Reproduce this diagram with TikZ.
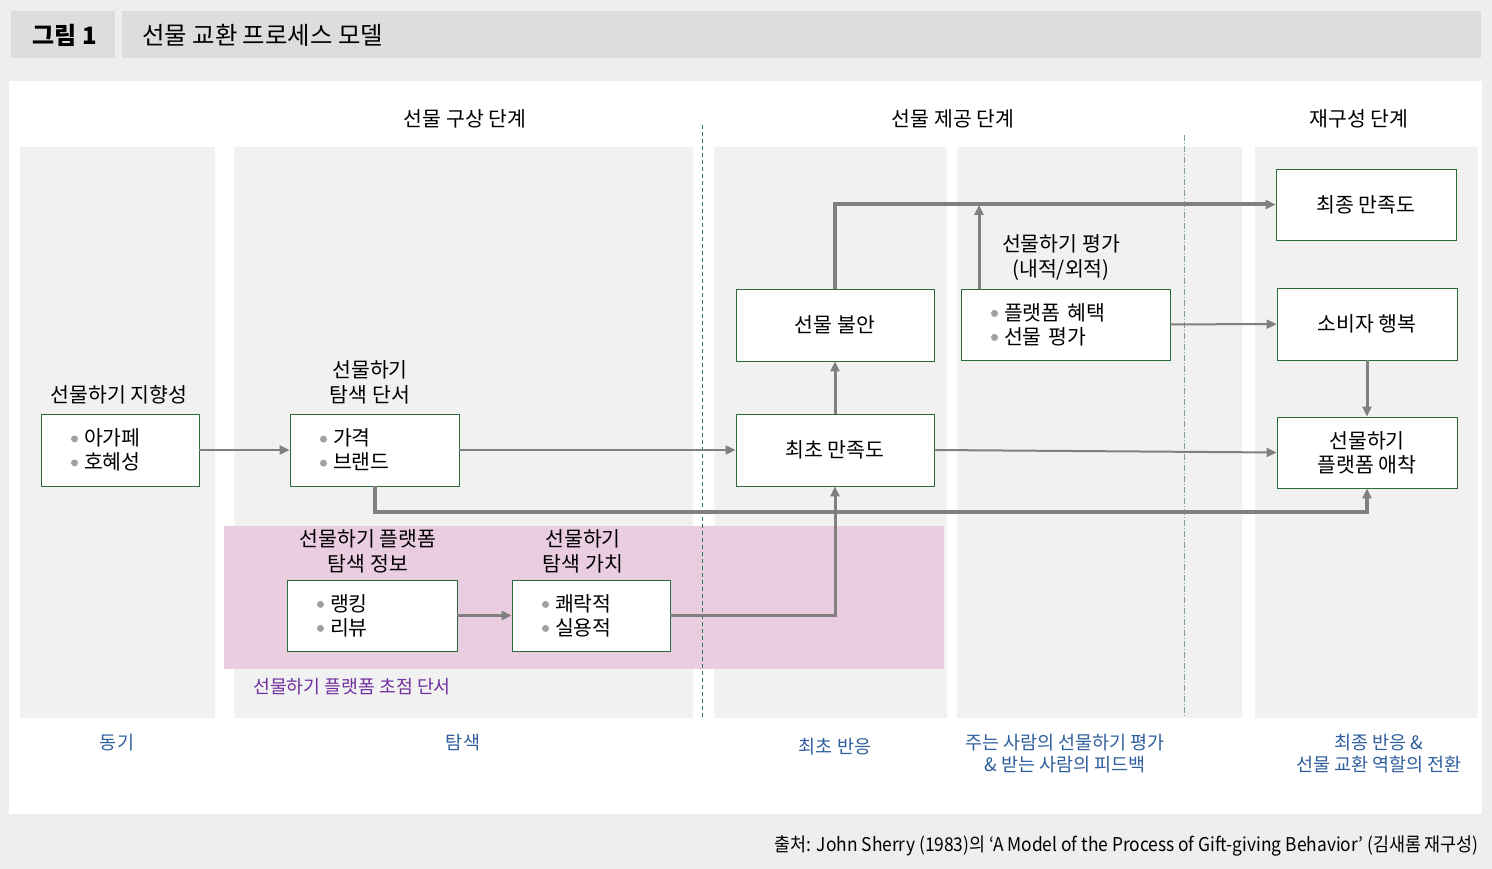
\documentclass[tikz,border=0pt]{standalone}
\usepackage{fontspec}
\setmainfont{Noto Sans CJK KR}
\usepackage{graphicx}
\usetikzlibrary{arrows.meta}

\definecolor{pagegray}{HTML}{EEEEEE}
\definecolor{bargray}{HTML}{DCDDDC}
\definecolor{panelgray}{HTML}{F1F1F1}
\definecolor{focuspink}{HTML}{EACDE1}
\definecolor{boxgreen}{HTML}{2A6B3C}
\definecolor{linegray}{HTML}{808080}
\definecolor{dotgray}{HTML}{A0A0A0}
\definecolor{stageblue}{HTML}{2F5F9E}
\definecolor{focuspurple}{HTML}{7030A0}
\definecolor{dashgreen}{HTML}{2E7D4F}
\definecolor{dotdashgreen}{HTML}{7FA088}

\newcommand{\gbul}{\tikz[baseline=-0.33em]\fill[dotgray] (0,0) circle (3.5pt);\hspace{6pt}}

\begin{document}
\begin{tikzpicture}[x=1pt, y=-1pt,
    >={Triangle[length=10pt, width=9pt]},
    gbox/.style={draw=boxgreen, fill=white, line width=0.8pt, minimum height=72pt, inner sep=0pt, font=\fontsize{20.5}{24}\selectfont},
    listbox/.style={gbox, align=left, inner xsep=30pt},
    ttl/.style={font=\fontsize{20.5}{25}\selectfont, align=center, inner sep=0pt},
    phase/.style={text=stageblue, font=\fontsize{18.5}{22}\selectfont, align=center, inner sep=0pt},
    arr/.style={->, draw=linegray, line width=#1},
    arr/.default=2.5pt]

    % Background, header and panels
    \fill[pagegray] (0,0) rectangle (1492,869);
    \useasboundingbox (0,0) rectangle (1492,869);
    \fill[bargray] (11,11) rectangle (115,58);
    \fill[bargray] (122,11) rectangle (1481,58);
    \node[font=\fontsize{24}{26}\selectfont\bfseries] (FigNo) at (65,35) {그림 1};
    \node[anchor=west, inner sep=0pt, font=\fontsize{24.4}{26}\selectfont] (FigTitle) at (142,35) {선물 교환 프로세스 모델};
    \fill[white] (9,81) rectangle (1482,814);
    \fill[panelgray] (20,147) rectangle (215,718);
    \fill[panelgray] (234,147) rectangle (693,718);
    \fill[panelgray] (714,147) rectangle (947,718);
    \fill[panelgray] (957,147) rectangle (1242,718);
    \fill[panelgray] (1255,147) rectangle (1478,718);
    \fill[focuspink] (224,526) rectangle (944,669);

    % Stage borders
    \draw[dashgreen, line width=0.8pt, dash pattern=on 4pt off 3pt] (702,125) -- (702,720);
    \draw[dotdashgreen, line width=0.8pt, dash pattern=on 6pt off 2pt on 1pt off 2pt] (1184,135) -- (1184,716);

    % Stage titles
    \node[ttl] (Design) at (465,119) {선물 구상 단계};
    \node[ttl] (Giving) at (953,119) {선물 제공 단계};
    \node[ttl] (Rebuild) at (1359,119) {재구성 단계};

    % Boxes
    \node[listbox, text width=98pt] (Orient) at (120,450) {\gbul 아가페\\ \gbul 호혜성};
    \node[listbox, text width=109pt] (Cue) at (374.5,450) {\gbul 가격\\ \gbul 브랜드};
    \node[listbox, text width=110pt, minimum height=71pt] (Info) at (372,615.5) {\gbul 랭킹\\ \gbul 리뷰};
    \node[listbox, text width=98pt, minimum height=71pt] (Value) at (591,615.5) {\gbul 쾌락적\\ \gbul 실용적};
    \node[gbox, minimum width=198pt] (Anxiety) at (835,325) {선물 불안};
    \node[gbox, minimum width=198pt] (First) at (835,450) {최초 만족도};
    \node[listbox, text width=149pt, minimum height=71pt] (Eval) at (1065.5,324.5) {\gbul 플랫폼 혜택\\ \gbul 선물 평가};
    \node[gbox, minimum width=180pt, minimum height=71pt] (Final) at (1366,204.5) {최종 만족도};
    \node[gbox, minimum width=180pt] (Happy) at (1367,324) {소비자 행복};
    \node[gbox, minimum width=180pt, minimum height=71pt, align=center] (Attach) at (1367,452.5) {선물하기\\플랫폼 애착};

    % Box titles
    \node[ttl] (OrientT) at (119,395) {선물하기 지향성};
    \node[ttl] (CueT) at (370,382) {선물하기\\탐색 단서};
    \node[ttl] (InfoT) at (368,551) {선물하기 플랫폼\\탐색 정보};
    \node[ttl] (ValueT) at (583,551) {선물하기\\탐색 가치};
    \node[ttl] (EvalT) at (1061,258) {선물하기 평가\\(내적/외적)};

    % Connectors
    \coordinate (LowRail) at (1367,512);
    \coordinate (EvalTop) at (979,205);
    \draw[arr] (Orient) -- (Cue);
    \draw[arr=2pt] (Cue) -- (First);
    \draw[arr=4pt] (Cue.south) |- (LowRail) -- (Attach.south);
    \draw[arr] (Info) -- (Value);
    \draw[arr=3pt] (Value.east) -| (First.south);
    \draw[arr=3pt] (First) -- (Anxiety);
    \draw[arr=4pt] (Anxiety.north) |- (Final.west);
    \draw[arr=3pt] (EvalTop |- Eval.north) -- (EvalTop);
    \draw[arr=2pt] (Eval) -- (Happy);
    \draw[arr=2pt] (First.east) -- (Attach.west);
    \draw[arr=3pt] (Happy) -- (Attach);

    % Focus label and phases
    \node[anchor=west, inner sep=0pt, text=focuspurple, font=\fontsize{18.3}{22}\selectfont] (Focus) at (253,687) {선물하기 플랫폼 초점 단서};
    \node[phase] (Motive) at (117,743) {동기};
    \node[phase] (Search) at (463,743) {탐색};
    \node[phase] (React) at (835,747) {최초 반응};
    \node[phase] (Feedback) at (1065,754) {주는 사람의 선물하기 평가\\\& 받는 사람의 피드백};
    \node[phase] (Shift) at (1379,754) {최종 반응 \&\\선물 교환 역할의 전환};

    % Source
    \node[anchor=east, inner sep=0pt, font=\fontsize{19}{23}\selectfont] (Source) at (1479,846) {\resizebox{704pt}{\height}{출처: John Sherry (1983)의 ‘A Model of the Process of Gift-giving Behavior’ (김새롬 재구성)}};
\end{tikzpicture}
\end{document}
